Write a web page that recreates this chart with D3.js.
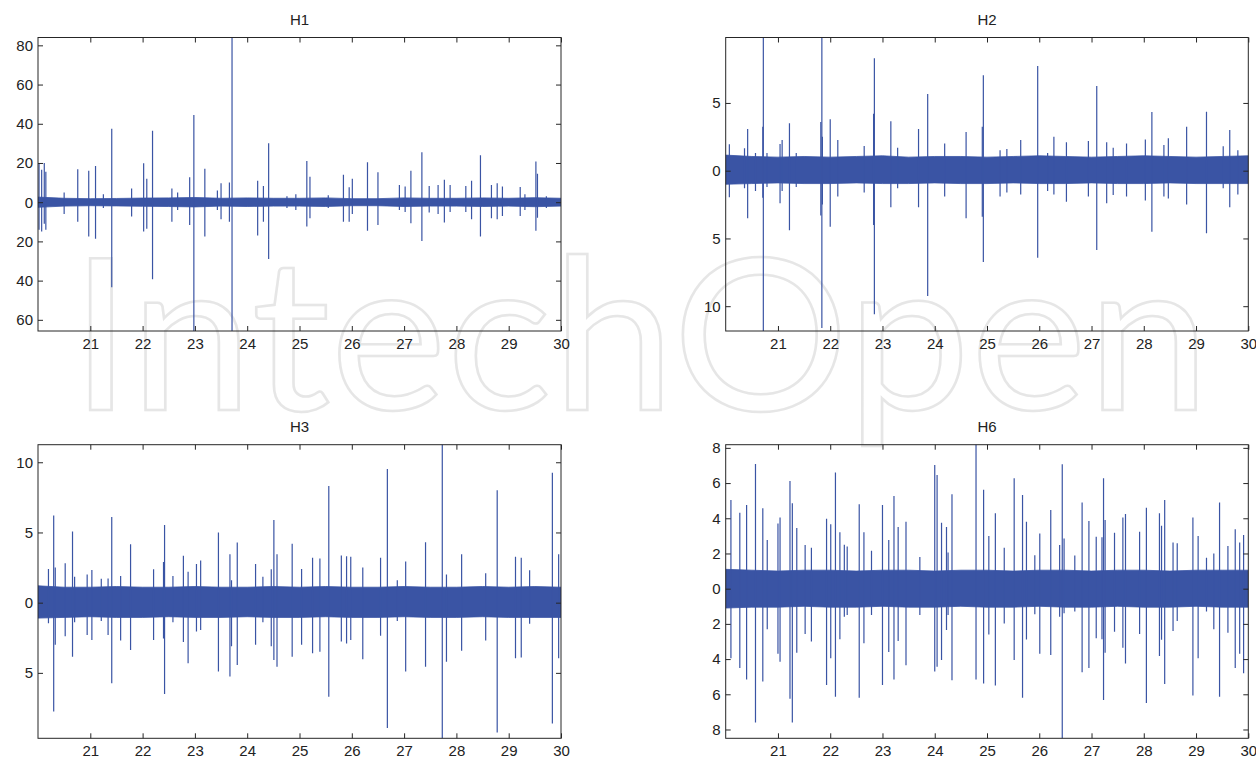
<!DOCTYPE html>
<html>
<head>
<meta charset="utf-8">
<script src="https://cdn.jsdelivr.net/npm/d3@7"></script>
<style>
  body { margin: 0; background: #fff; }
  svg { display: block; }
  text { font-family: "Liberation Sans", Arial, Helvetica, sans-serif; }
</style>
</head>
<body>
<svg id="chart" width="1256" height="760"></svg>
<script>
// ---- shared axis values ----
const xTicks = [21, 22, 23, 24, 25, 26, 27, 28, 29, 30];
const bandTimes = [20, 20.5, 21, 21.5, 22, 22.5, 23, 23.5, 24, 24.5, 25,
                   25.5, 26, 26.5, 27, 27.5, 28, 28.5, 29, 29.5, 30];

// ---- H1 ----
const h1YTicks = [-60, -40, -20, 0, 20, 40, 60, 80];
const h1SpikeTimes = [20.02, 20.07, 20.12, 20.15, 20.50, 20.76, 20.97, 21.10, 21.25, 21.41,
  21.79, 22.02, 22.08, 22.19, 22.56, 22.67, 22.90, 22.98, 23.19, 23.43, 23.50, 23.66, 23.71,
  24.20, 24.31, 24.41, 24.76, 24.93, 25.14, 25.20, 25.55, 25.84, 25.95, 26.01, 26.30, 26.50,
  26.91, 27.02, 27.13, 27.34, 27.48, 27.65, 27.77, 27.88, 28.18, 28.29, 28.46, 28.67, 28.78,
  28.88, 29.22, 29.31, 29.52, 29.55, 29.72];
const h1SpikeHigh = [20, 16.5, 20, 15.5, 5, 16.8, 16, 18.5, 4, 37.4,
  7, 19.9, 12, 36.4, 7, 5, 12.7, 44.5, 17, 6, 9.7, 10, 84,
  10.9, 8.3, 30, 3, 4, 21, 13, 3.5, 14, 7.6, 12, 20.4, 15.3,
  8.8, 8, 16, 25.5, 8.3, 8.8, 11.4, 8.8, 8.3, 10.9, 24, 8.8, 9.7,
  8, 7.7, 4, 20.7, 14.5, 3];
const h1SpikeLow = [-14, -15, -11, -14, -6, -10, -17.5, -18.7, -3, -43.4,
  -7.3, -15, -13.6, -39.3, -10, -4, -11.6, -66, -17.5, -4, -8.7, -10, -66,
  -17, -10, -29, -3, -4, -12.4, -8.2, -3, -10, -10, -6, -14.6, -11.6,
  -4, -5, -10.7, -19.8, -5.3, -6, -10.4, -5, -5, -8.7, -17.5, -8.2, -8.7,
  -7, -7, -4, -14.6, -8, -3];
const h1BandHigh = [2.6, 2.0, 1.8, 1.9, 2.1, 2.2, 2.4, 2.0, 2.2, 2.0, 2.0,
                    2.2, 1.8, 1.8, 2.2, 2.0, 2.0, 2.2, 2.0, 2.3, 2.0];
const h1BandLow = [-2.6, -2.0, -1.8, -1.9, -2.1, -2.2, -2.4, -2.0, -2.2, -2.0, -2.0,
                   -2.2, -1.8, -1.8, -2.2, -2.0, -2.0, -2.2, -2.0, -2.3, -2.0];

// ---- H2 ----
const h2YTicks = [-10, -5, 0, 5];
const h2SpikeTimes = [20.07, 20.36, 20.42, 20.57, 20.71, 20.72, 20.79, 21.04, 21.08, 21.22,
  21.35, 21.82, 21.84, 21.85, 22.00, 22.145, 22.65, 22.83, 22.845, 23.16, 23.29, 23.69,
  23.865, 24.19, 24.60, 24.91, 24.93, 25.25, 25.38, 25.645, 25.97, 26.16, 26.28, 26.52,
  26.94, 27.10, 27.29, 27.415, 27.67, 28.03, 28.155, 28.385, 28.47, 28.82, 29.20, 29.52,
  29.645, 29.80];
const h2SpikeHigh = [1.95, 1.65, 3.08, 1.3, 3.25, 9.9, 1.3, 1.97, 2.27, 3.5,
  1.3, 3.6, 9.9, 2.5, 3.8, 2.27, 1.82, 4.2, 8.3, 3.65, 1.7, 3.08,
  5.66, 2.0, 2.86, 3.25, 7.04, 1.5, 1.6, 2.27, 7.73, 1.3, 2.5, 2.1,
  2.2, 6.25, 2.1, 1.7, 2.0, 2.3, 4.33, 1.9, 2.4, 3.25, 4.35, 1.8,
  3.0, 1.5];
const h2SpikeLow = [-1.96, -1.3, -3.5, -1.5, -2.0, -11.9, -1.2, -2.4, -1.5, -4.4,
  -1.2, -3.3, -11.6, -2.5, -4.13, -1.9, -1.6, -4.0, -10.6, -2.7, -1.3, -2.7,
  -9.25, -1.9, -3.5, -3.4, -6.74, -1.9, -1.6, -1.75, -6.42, -1.5, -1.75, -2.3,
  -1.9, -5.85, -2.4, -1.8, -1.9, -2.2, -4.5, -1.9, -2.05, -2.5, -4.62, -1.3,
  -2.7, -1.75];
const h2BandHigh = [1.15, 1.05, 1.0, 1.05, 1.0, 1.05, 1.1, 1.0, 1.05, 1.05, 1.0,
                    1.05, 1.1, 1.05, 1.0, 1.05, 1.1, 1.05, 1.0, 1.05, 1.1];
const h2BandLow = [-1.0, -0.95, -0.9, -0.95, -0.95, -0.9, -0.95, -0.95, -0.9, -0.95, -0.95,
                   -0.9, -0.95, -0.95, -0.9, -0.95, -0.95, -0.9, -0.95, -0.95, -0.95];

// ---- H3 ----
const h3YTicks = [-5, 0, 5, 10];
const h3SpikeTimes = [20.20, 20.30, 20.33, 20.52, 20.66, 20.70, 20.94, 21.03, 21.21, 21.34,
  21.41, 21.58, 21.77, 22.21, 22.40, 22.42, 22.58, 22.78, 22.87, 23.03, 23.11, 23.45,
  23.67, 23.70, 23.81, 24.16, 24.30, 24.46, 24.51, 24.57, 24.86, 25.04, 25.25, 25.39,
  25.56, 25.80, 25.90, 25.98, 26.21, 26.55, 26.68, 26.87, 27.03, 27.41, 27.73, 27.81,
  28.10, 28.56, 28.78, 29.13, 29.24, 29.40, 29.835, 29.955];
const h3SpikeHigh = [2.4, 6.2, 2.5, 2.8, 5.06, 1.85, 2.0, 2.33, 1.7, 1.72,
  6.1, 1.9, 4.16, 2.38, 2.9, 5.53, 1.9, 3.34, 2.2, 2.76, 3.0, 5.0,
  3.45, 1.6, 4.28, 2.75, 1.85, 2.38, 5.88, 3.45, 4.2, 2.4, 3.2, 3.14,
  8.31, 3.35, 3.3, 3.27, 2.5, 3.2, 9.52, 1.6, 2.93, 4.3, 11.3, 2.0,
  3.45, 2.1, 8.0, 3.27, 3.2, 2.3, 9.26, 3.45];
const h3SpikeLow = [-1.47, -7.76, -3.0, -2.4, -3.85, -1.4, -2.3, -2.66, -1.3, -2.3,
  -5.74, -2.7, -3.37, -2.66, -2.55, -6.5, -1.4, -2.8, -4.31, -2.06, -1.95, -4.9,
  -5.26, -3.1, -4.44, -3.0, -1.4, -3.1, -4.08, -4.56, -3.85, -3.0, -3.6, -3.5,
  -6.7, -2.76, -2.9, -2.66, -4.03, -2.35, -8.93, -1.3, -4.9, -4.56, -9.7, -4.2,
  -3.43, -2.7, -9.24, -3.95, -3.9, -1.5, -8.6, -3.95];
const h3BandHigh = [1.2, 1.1, 1.1, 1.15, 1.1, 1.1, 1.15, 1.1, 1.1, 1.15, 1.1,
                    1.15, 1.1, 1.1, 1.15, 1.1, 1.1, 1.15, 1.1, 1.15, 1.1];
const h3BandLow = [-1.1, -1.05, -1.0, -1.05, -1.05, -1.0, -1.05, -1.05, -1.0, -1.05, -1.05,
                   -1.0, -1.05, -1.05, -1.0, -1.05, -1.05, -1.0, -1.05, -1.05, -1.05];

// ---- H6 ----
const h6YTicks = [-8, -6, -4, -2, 0, 2, 4, 6, 8];
const h6SpikeTimes = [20.10, 20.27, 20.40, 20.57, 20.71, 20.795, 21.00, 21.04, 21.23, 21.275,
  21.36, 21.52, 21.64, 21.93, 22.01, 22.10, 22.185, 22.27, 22.325, 22.555, 22.645, 22.79,
  23.00, 23.12, 23.22, 23.30, 23.45, 23.715, 24.00, 24.045, 24.13, 24.225, 24.255, 24.33,
  24.79, 24.935, 25.035, 25.16, 25.33, 25.52, 25.68, 25.755, 25.915, 26.01, 26.22, 26.39,
  26.44, 26.475, 26.68, 26.82, 26.95, 27.09, 27.20, 27.23, 27.26, 27.44, 27.60, 27.65,
  27.92, 28.05, 28.30, 28.34, 28.40, 28.56, 28.64, 28.94, 29.04, 29.20, 29.34, 29.45,
  29.61, 29.75, 29.835, 29.91];
const h6SpikeHigh = [5.04, 4.32, 4.76, 7.08, 4.57, 2.77, 3.7, 4.05, 6.12, 4.85,
  3.45, 2.48, 2.33, 3.97, 3.66, 6.6, 3.2, 2.5, 2.4, 4.8, 3.2, 2.15,
  4.75, 2.77, 5.27, 3.5, 3.8, 1.8, 7.03, 6.46, 3.75, 3.5, 2.05, 5.36,
  8.3, 5.62, 3.0, 4.28, 2.33, 6.27, 5.32, 3.8, 1.9, 3.14, 4.47, 2.48,
  7.07, 2.85, 1.88, 4.9, 3.85, 2.95, 2.92, 6.27, 3.9, 3.18, 4.05, 4.24,
  3.24, 4.6, 4.28, 3.58, 5.04, 2.62, 2.58, 4.05, 3.0, 1.76, 2.0, 4.9,
  2.42, 3.37, 2.63, 3.05];
const h6SpikeLow = [-3.95, -4.5, -5.16, -7.6, -5.28, -2.3, -3.7, -4.15, -6.25, -7.6,
  -3.64, -2.58, -3.0, -5.47, -3.95, -6.14, -2.87, -1.6, -1.5, -6.2, -3.1, -1.5,
  -5.47, -3.6, -5.16, -2.97, -4.35, -1.5, -4.7, -4.43, -4.05, -2.35, -1.5, -5.2,
  -5.16, -5.38, -2.6, -5.5, -1.98, -4.05, -6.2, -2.88, -1.45, -3.7, -3.77, -1.6,
  -8.6, -1.4, -1.3, -4.75, -4.5, -2.82, -2.87, -6.32, -3.64, -2.44, -3.35, -4.25,
  -2.58, -6.5, -3.82, -2.9, -5.41, -2.4, -1.84, -6.07, -3.95, -1.3, -2.3, -6.14,
  -2.5, -4.5, -3.7, -4.8];
const h6BandHigh = [1.1, 1.05, 1.0, 1.05, 1.05, 1.0, 1.05, 1.05, 1.0, 1.05, 1.05,
                    1.0, 1.05, 1.05, 1.0, 1.05, 1.05, 1.0, 1.05, 1.05, 1.05];
const h6BandLow = [-1.1, -1.05, -1.05, -1.0, -1.05, -1.05, -1.0, -1.05, -1.05, -1.0, -1.05,
                   -1.05, -1.0, -1.05, -1.05, -1.0, -1.05, -1.05, -1.0, -1.05, -1.05];

// ---- panel layout ----
const panels = [
  { title: "H1", left: 38, top: 37.5, width: 523, height: 293.5, yDomain: [-65.7, 84],
    yTicks: h1YTicks, t: h1SpikeTimes, hi: h1SpikeHigh, lo: h1SpikeLow,
    bandHi: h1BandHigh, bandLo: h1BandLow },
  { title: "H2", left: 725.7, top: 37.5, width: 522.6, height: 293.5, yDomain: [-11.83, 9.83],
    yTicks: h2YTicks, t: h2SpikeTimes, hi: h2SpikeHigh, lo: h2SpikeLow,
    bandHi: h2BandHigh, bandLo: h2BandLow },
  { title: "H3", left: 38, top: 444.7, width: 523, height: 293.6, yDomain: [-9.66, 11.25],
    yTicks: h3YTicks, t: h3SpikeTimes, hi: h3SpikeHigh, lo: h3SpikeLow,
    bandHi: h3BandHigh, bandLo: h3BandLow },
  { title: "H6", left: 725.7, top: 444.7, width: 522.6, height: 293.6, yDomain: [-8.5, 8.18],
    yTicks: h6YTicks, t: h6SpikeTimes, hi: h6SpikeHigh, lo: h6SpikeLow,
    bandHi: h6BandHigh, bandLo: h6BandLow }
];

const traceColor = "#3a54a4";
const axisColor = "#262626";
const svg = d3.select("#chart");
svg.append("rect").attr("width", 1256).attr("height", 760).attr("fill", "#fff");

// publisher mark in the background
svg.append("text")
  .attr("x", 70).attr("y", 410)
  .attr("textLength", 1140).attr("lengthAdjust", "spacingAndGlyphs")
  .style("font-family", "Lato, 'Open Sans', sans-serif")
  .style("font-weight", 400)
  .style("font-size", "212px")
  .attr("fill", "none")
  .attr("stroke", "#e6e6e6")
  .attr("stroke-width", 2.5)
  .text("IntechOpen");

const absFormat = d => String(Math.abs(d));

panels.forEach((p, i) => {
  const g = svg.append("g").attr("transform", `translate(${p.left},${p.top})`);
  const x = d3.scaleLinear().domain([20, 30]).range([0, p.width]);
  const y = d3.scaleLinear().domain(p.yDomain).range([p.height, 0]);

  const clipId = "clip" + i;
  g.append("clipPath").attr("id", clipId)
    .append("rect").attr("width", p.width).attr("height", p.height);

  const plot = g.append("g").attr("clip-path", `url(#${clipId})`);

  // dense background activity as a filled envelope
  const band = bandTimes.map((t, k) => ({ t, hi: p.bandHi[k], lo: p.bandLo[k] }));
  plot.append("path")
    .datum(band)
    .attr("fill", traceColor)
    .attr("stroke", traceColor)
    .attr("stroke-width", 0.8)
    .attr("d", d3.area().x(d => x(d.t)).y0(d => y(d.lo)).y1(d => y(d.hi)));

  // discharges
  const spikes = p.t.map((t, k) => ({ t, hi: p.hi[k], lo: p.lo[k] }));
  plot.selectAll("line.spike")
    .data(spikes)
    .join("line")
    .attr("class", "spike")
    .attr("x1", d => x(d.t)).attr("x2", d => x(d.t))
    .attr("y1", d => y(d.hi)).attr("y2", d => y(d.lo))
    .attr("stroke", traceColor)
    .attr("stroke-width", 1.2);

  // axes with inward ticks on all four sides
  const styleAxis = sel => {
    sel.select(".domain").remove();
    sel.selectAll(".tick line").attr("stroke", axisColor);
    sel.selectAll(".tick text").attr("fill", "#222").style("font-size", "15px");
  };
  g.append("g").attr("transform", `translate(0,${p.height})`)
    .call(d3.axisBottom(x).tickValues(xTicks).tickSizeInner(-5).tickSizeOuter(0)
      .tickPadding(7).tickFormat(d3.format("d")))
    .call(styleAxis);
  g.append("g")
    .call(d3.axisTop(x).tickValues(xTicks).tickSizeInner(-5).tickSizeOuter(0).tickFormat(""))
    .call(styleAxis);
  g.append("g")
    .call(d3.axisLeft(y).tickValues(p.yTicks).tickSizeInner(-5).tickSizeOuter(0)
      .tickPadding(5).tickFormat(absFormat))
    .call(styleAxis);
  g.append("g").attr("transform", `translate(${p.width},0)`)
    .call(d3.axisRight(y).tickValues(p.yTicks).tickSizeInner(-5).tickSizeOuter(0).tickFormat(""))
    .call(styleAxis);

  g.append("rect")
    .attr("width", p.width).attr("height", p.height)
    .attr("fill", "none").attr("stroke", axisColor).attr("stroke-width", 1);

  g.append("text")
    .attr("x", p.width / 2).attr("y", -12.5)
    .attr("text-anchor", "middle")
    .attr("fill", "#222")
    .style("font-size", "15px")
    .text(p.title);
});
</script>
</body>
</html>
